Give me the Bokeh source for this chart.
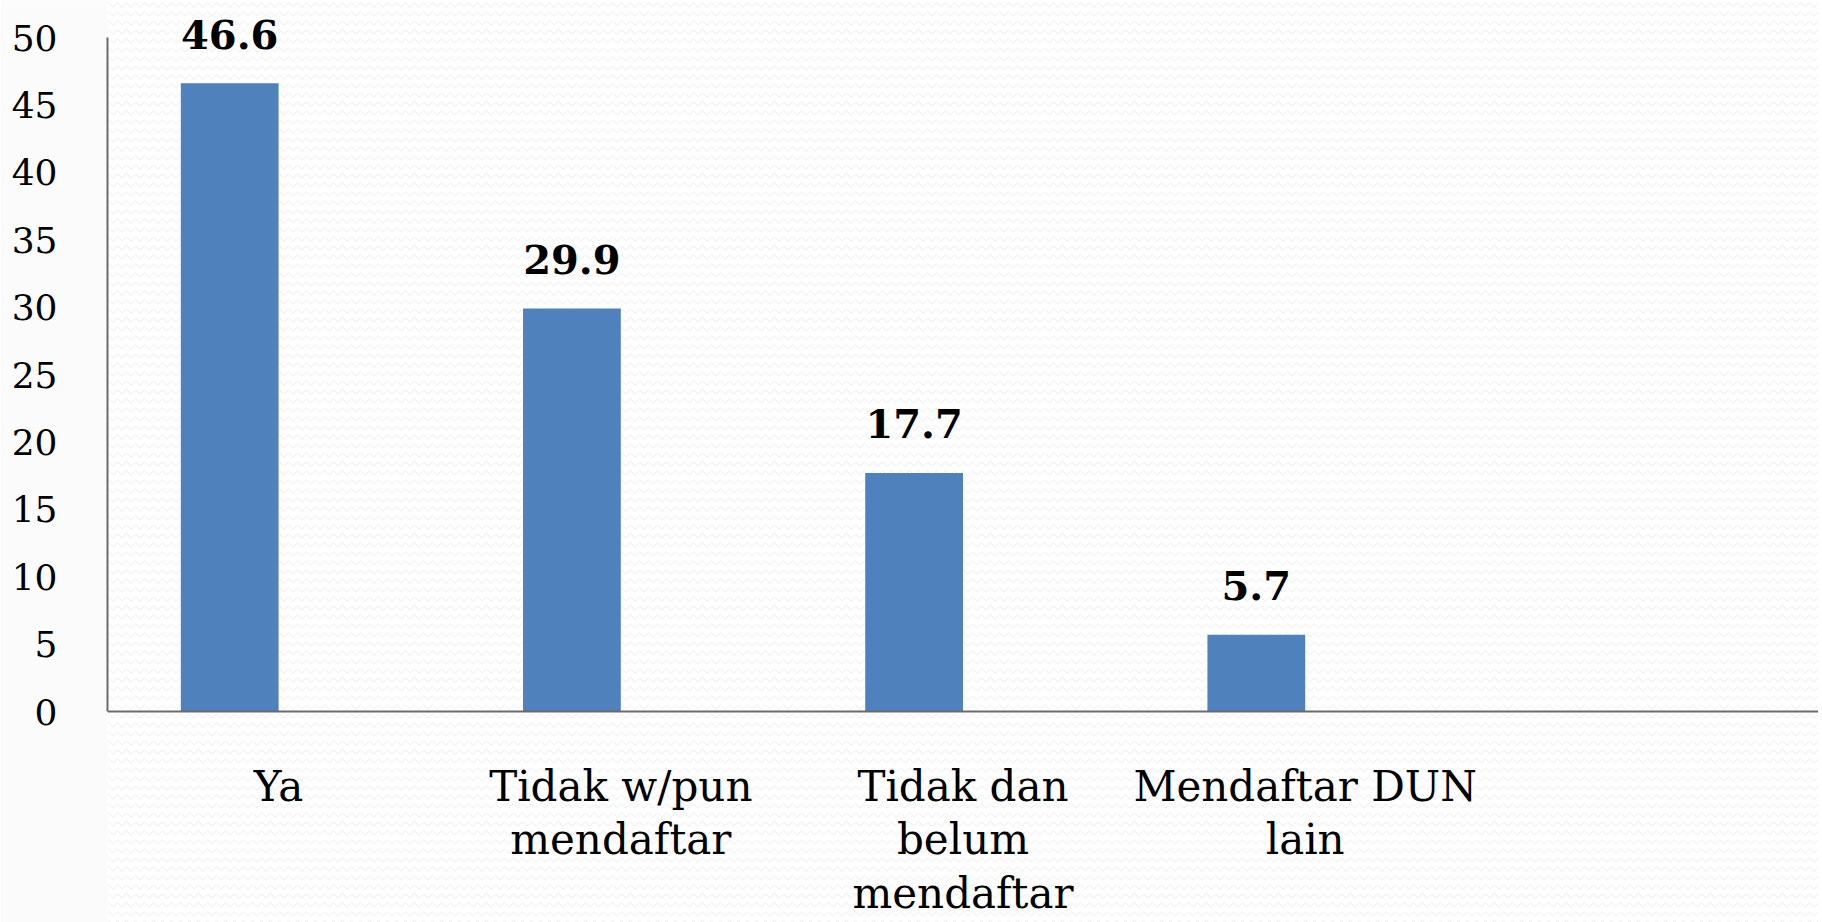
from bokeh.plotting import figure
from bokeh.models import ColumnDataSource, Range1d, FactorRange, Span, FixedTicker, BoxAnnotation
from bokeh.transform import dodge
from bokeh.core.properties import value
from bokeh.embed import file_html
from bokeh.resources import INLINE

categories = ["Ya", "Tidak w/pun mendaftar", "Tidak dan belum mendaftar", "Mendaftar DUN lain"]
category_labels = ["Ya", "Tidak w/pun\nmendaftar", "Tidak dan\nbelum\nmendaftar", "Mendaftar DUN\nlain"]
values = [46.6, 29.9, 17.7, 5.7]
value_labels = ["46.6", "29.9", "17.7", "5.7"]
y_ticks = [0, 5, 10, 15, 20, 25, 30, 35, 40, 45, 50]
empty_slot = [" "]

factors = categories + empty_slot

p = figure(
    width=1818, height=922,
    x_range=FactorRange(factors=factors),
    y_range=Range1d(-15.65, 52.745),
    output_backend="svg", toolbar_location=None,
    min_border_left=107, min_border_right=0, min_border_top=0, min_border_bottom=0,
)
p.outline_line_color = None
p.xgrid.visible = False
p.ygrid.visible = False
p.xaxis.visible = False
p.background_fill_color = "white"
p.border_fill_color = "#fbfbfb"

bg = BoxAnnotation(fill_color="white", fill_alpha=1.0, line_color=None,
                   hatch_pattern="horizontal_wave", hatch_color="#ececec",
                   hatch_scale=9, hatch_weight=1, level="underlay")
p.add_layout(bg)

ax = p.yaxis[0]
ax.ticker = FixedTicker(ticks=y_ticks)
ax.bounds = (0, 50)
ax.axis_line_color = "#6b6b6b"
ax.axis_line_width = 2
ax.major_tick_line_color = None
ax.minor_tick_line_color = None
ax.major_label_standoff = 44
ax.major_label_text_font = "DejaVu Serif"
ax.major_label_text_font_size = "36px"
ax.major_label_text_color = "black"

p.add_layout(Span(location=0, dimension="width", line_color="#6b6b6b", line_width=2))

src = ColumnDataSource(dict(cat=categories, val=values, lbl=value_labels, name=category_labels,
                            base=[0] * len(categories)))

bar_w = 1 / 3.5
p.vbar(x=dodge("cat", -bar_w / 2, range=p.x_range), top="val", width=bar_w,
       source=src, fill_color="#4f81bd", line_color=None)

p.text(x=dodge("cat", -bar_w / 2, range=p.x_range), y="val", text="lbl", source=src,
       text_font=value("DejaVu Serif"), text_font_style="bold", text_font_size="40px",
       text_align="center", text_baseline="alphabetic", y_offset=-49, text_color="black")

p.text(x="cat", y="base", text="name", source=src,
       text_font=value("DejaVu Serif"), text_font_size="42px", text_line_height=1.1,
       text_align="center", text_baseline="top", y_offset=50, text_color="black")

open("out.html", "w").write(file_html(p, INLINE))
